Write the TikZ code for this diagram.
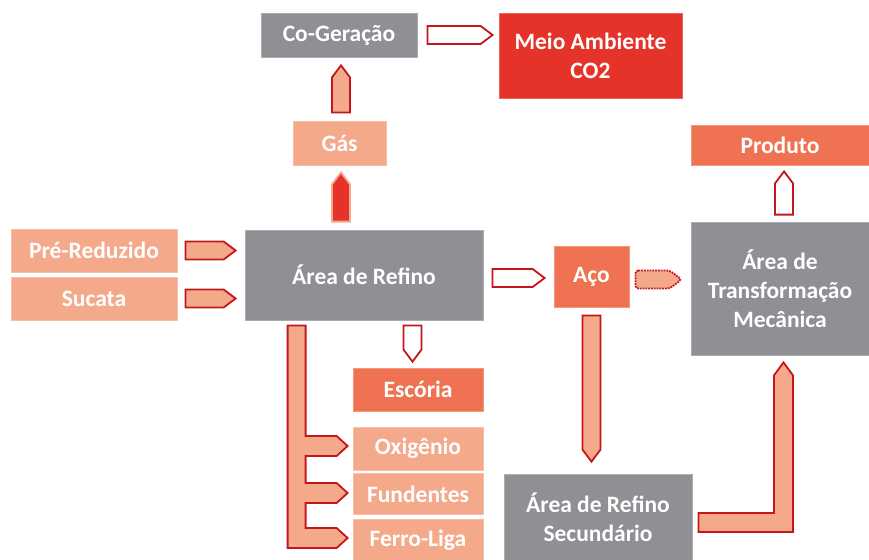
\documentclass[tikz,border=0pt]{standalone}
\usepackage{fontspec}
\setmainfont{Carlito}
\usetikzlibrary{calc}
\definecolor{cgray}{HTML}{8F9094}
\definecolor{cred}{HTML}{E63329}
\definecolor{cmed}{HTML}{EF7352}
\definecolor{clight}{HTML}{F5A98B}
\definecolor{cdark}{HTML}{C4161C}
\tikzset{
  box/.style={draw=#1!75!white, line width=0.8pt, fill=#1, text=white,
    font=\fontsize{23.5}{29}\selectfont\bfseries, align=center, inner sep=0pt},
  hollow/.style={draw=cdark, fill=white, line width=1.8pt, line join=miter},
  lightarr/.style={draw=cdark, fill=clight, line width=1.8pt, line join=miter},
  redarr/.style={draw=clight, fill=cred, line width=1.8pt, line join=miter},
  dotarr/.style={draw=cdark, fill=clight, line width=1.8pt, densely dotted, rounded corners=3pt},
}
% pentagon arrows: optional style, start, end
\newcommand\pentR[3][]{\draw[#1] let \p1=#2, \p2=#3 in
  (\x1,\y1+9pt) -- (\x2-12pt,\y1+9pt) -- (\x2,\y1) -- (\x2-12pt,\y1-9pt) -- (\x1,\y1-9pt) -- cycle;}
\newcommand\pentU[3][]{\draw[#1] let \p1=#2, \p2=#3 in
  (\x1-9pt,\y1) -- (\x1-9pt,\y2-12pt) -- (\x1,\y2) -- (\x1+9pt,\y2-12pt) -- (\x1+9pt,\y1) -- cycle;}
\newcommand\pentD[3][]{\draw[#1] let \p1=#2, \p2=#3 in
  (\x1-9pt,\y1) -- (\x1-9pt,\y2+12pt) -- (\x1,\y2) -- (\x1+9pt,\y2+12pt) -- (\x1+9pt,\y1) -- cycle;}
\begin{document}
\begin{tikzpicture}[x=1pt,y=-1pt]
\clip (0,0) rectangle (869,559);
\fill[white] (0,0) rectangle (869,559);
% boxes
\node[box=cgray, minimum width=156, minimum height=44] (coge) at (339,35) {Co-Geração};
\node[box=cred, minimum width=183, minimum height=85] (meio) at (590.5,55.5) {Meio Ambiente\\CO2};
\node[box=clight, minimum width=93, minimum height=44] (gas) at (339.5,143) {Gás};
\node[box=cgray, minimum width=238, minimum height=90] (refino) at (364,275) {Área de Refino};
\node[box=clight, minimum width=166, minimum height=43] (pre) at (94,250.5) {Pré-Reduzido};
\node[box=clight, minimum width=166, minimum height=43] (suc) at (94,298.5) {Sucata};
\node[box=cmed, minimum width=130, minimum height=43] (esc) at (418,389.5) {Escória};
\node[box=clight, minimum width=130, minimum height=43] (oxi) at (418,448.5) {Oxigênio};
\node[box=clight, minimum width=130, minimum height=41] (fun) at (418,494) {Fundentes};
\node[box=clight, minimum width=130, minimum height=43] (fer) at (418,540.5) {Ferro-Liga};
\node[box=cmed, minimum width=75, minimum height=61] (aco) at (591.5,276.5) {Aço};
\node[box=cgray, minimum width=178, minimum height=133] (atm) at (780,288.5) {Área de\\Transformação\\Mecânica};
\node[box=cmed, minimum width=178, minimum height=40] (prod) at (780,145) {Produto};
\node[box=cgray, minimum width=188, minimum height=86] (ars) at (598,517) {Área de Refino\\Secundário};
% arrows
\pentR[hollow]{($(coge.east)+(10,0)$)}{($(coge.east -| meio.west)+(-6,0)$)}
\pentU[lightarr]{($(gas.north)+(1.5,-8)$)}{($(coge.south)+(2,8)$)}
\pentU[redarr]{($(gas.south |- refino.north)+(1.5,-8)$)}{($(gas.south)+(1.5,7)$)}
\pentR[lightarr]{($(pre.east)+(8,0)$)}{($(pre.east -| refino.west)+(-9,0)$)}
\pentR[lightarr]{($(suc.east)+(8,0)$)}{($(suc.east -| refino.west)+(-9,0)$)}
\pentD[hollow]{($(esc.north |- refino.south)+(-5.5,5)$)}{($(esc.north)+(-5.5,-6)$)}
\pentR[hollow]{($(refino.east)+(9,3)$)}{($(refino.east -| aco.west)+(-9,3)$)}
\pentR[dotarr]{($(aco.east)+(6,3)$)}{($(aco.east -| atm.west)+(-9,3)$)}
\pentD[lightarr]{($(aco.south)+(0,8)$)}{($(aco.south |- ars.north)+(0,-12)$)}
\pentU[hollow]{($(atm.north)+(4,-7)$)}{($(prod.south)+(4,6)$)}
% L-shaped arrow from ars to atm
\draw[lightarr] let \p1=($(ars.east)+(6,5.5)$), \p2=($(atm.south)+(3.5,7)$) in
  (\x1,\y1+9.5pt) -- (\x2-9.5pt,\y1+9.5pt) -- (\x2-9.5pt,\y2-13pt) -- (\x2,\y2)
  -- (\x2+9.5pt,\y2-13pt) -- (\x2+9.5pt,\y1-9.5pt) -- (\x1,\y1-9.5pt) -- cycle;
% comb from refino to oxi, fun, fer
\draw[lightarr] let \p0=($(refino.south west)+(43,5)$),
  \p1=($(oxi.west)+(-5,-2.5)$), \p2=($(fun.west)+(-5,-1)$), \p3=($(fer.west)+(-5,-2.5)$) in
  (\x0,\y0) -- (\x0+18pt,\y0)
  -- (\x0+18pt,\y1+10pt) -- (\x1-11pt,\y1+10pt) -- (\x1,\y1) -- (\x1-11pt,\y1-10pt) -- (\x0+18pt,\y1-10pt)
  -- (\x0+18pt,\y2+10pt) -- (\x2-11pt,\y2+10pt) -- (\x2,\y2) -- (\x2-11pt,\y2-10pt) -- (\x0+18pt,\y2-10pt)
  -- (\x0+18pt,\y3+10pt) -- (\x3-11pt,\y3+10pt) -- (\x3,\y3) -- (\x3-11pt,\y3-10pt) -- (\x0,\y3-10pt) -- cycle;
\end{tikzpicture}
\end{document}
